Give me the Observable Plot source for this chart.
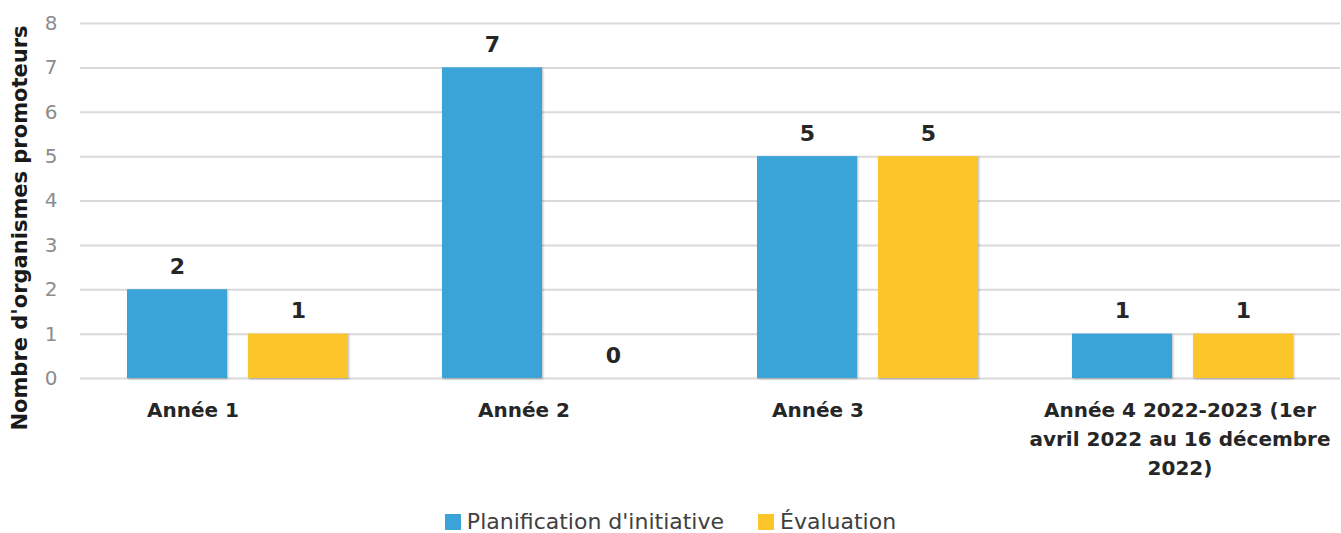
<!DOCTYPE html>
<html>
<head>
<meta charset="utf-8">
<script src="https://cdn.jsdelivr.net/npm/d3@7"></script>
<script src="https://cdn.jsdelivr.net/npm/@observablehq/plot@0.6"></script>
<style>
  html, body { margin: 0; padding: 0; background: #fff; }
  body { width: 1341px; height: 533px; overflow: hidden; font-family: "DejaVu Sans", sans-serif; }
  #chart svg { display: block; }
  g[aria-label="bar"] rect { filter: drop-shadow(1px 1px 1.2px rgba(0,0,0,0.28)); }
  #legend { display: flex; justify-content: center; align-items: center; gap: 34px; height: 31px; margin-top: 4px; font-size: 22px; color: #404040; }
  #legend .item { display: flex; align-items: center; gap: 6px; }
  #legend .sw { width: 16px; height: 16px; display: inline-block; }
</style>
</head>
<body>
<div id="chart"></div>
<div id="legend"></div>
<script>
const categories = ["Année 1", "Année 2", "Année 3", "Année 4"];
const categoryLabels = ["Année 1", "Année 2", "Année 3", "Année 4 2022-2023 (1er\navril 2022 au 16 décembre\n2022)"];
const series = ["Planification d'initiative", "Évaluation"];
const planification = [2, 7, 5, 1];
const evaluation = [1, 0, 5, 1];
const colors = ["#3aa3d8", "#fcc62a"];
const yTicks = [0, 1, 2, 3, 4, 5, 6, 7, 8];
const yLabel = "Nombre d'organismes promoteurs";

// layout tweaks (not data): horizontal nudge of category labels as in the reference
const labelNudge = [-45, -29, -50, -3];

const data = [];
categories.forEach((c, i) => {
  data.push({cat: c, series: series[0], value: planification[i]});
  data.push({cat: c, series: series[1], value: evaluation[i]});
});
const labelOf = Object.fromEntries(categories.map((c, i) => [c, categoryLabels[i]]));

const chart = Plot.plot({
  width: 1341,
  height: 502,
  marginLeft: 78,
  marginRight: 0,
  marginTop: 23,
  marginBottom: 124,
  style: {fontFamily: "DejaVu Sans, sans-serif", background: "#fff"},
  fx: {domain: categories, padding: 0, label: null},
  x: {domain: series, paddingInner: 0.172, paddingOuter: 0.38, axis: null},
  y: {domain: [0, 8], label: null},
  color: {domain: series, range: colors},
  marks: [
    Plot.ruleY(yTicks, {stroke: "#d9d9d9", strokeWidth: 2}),
    Plot.axisY({ticks: yTicks, tickSize: 0, tickPadding: 23, fontSize: 20, fill: "#8c8c8c",
      label: yLabel, labelAnchor: "center", labelOffset: 68, labelArrow: "none"}),
    Plot.axisFx({anchor: "bottom", tickSize: 0, tickPadding: 18, fontSize: 20, fontWeight: "bold", fill: "#262626", lineHeight: 1.45, tickFormat: d => labelOf[d], label: null}),
    Plot.barY(data, {fx: "cat", x: "series", y: "value", fill: "series"}),
    Plot.text(data, {fx: "cat", x: "series", y: "value", text: d => String(d.value), dy: -23, fontSize: 22, fontWeight: "bold", fill: "#262626"})
  ]
});
document.getElementById("chart").appendChild(chart);

// y-axis label: bold, dark, slightly lower as in the reference
const yl = d3.select(chart).select("g[aria-label='y-axis label']");
yl.selectAll("text").attr("font-weight", "bold").attr("font-size", 21).attr("fill", "#1a1a1a");
yl.attr("transform", ((yl.attr("transform") || "") + " translate(0,27)").trim());

// category labels nudge
d3.select(chart).selectAll("g[aria-label='fx-axis tick label'] text").each(function(d, i) {
  const n = labelNudge[categories.indexOf(d)] ?? labelNudge[i] ?? 0;
  const t = d3.select(this);
  const tr = t.attr("transform") || "";
  t.attr("transform", (tr + ` translate(${n},0)`).trim());
});

const legend = document.getElementById("legend");
series.forEach((s, i) => {
  const it = document.createElement("div");
  it.className = "item";
  const sw = document.createElement("span");
  sw.className = "sw";
  sw.style.background = colors[i];
  const t = document.createElement("span");
  t.textContent = s;
  it.appendChild(sw); it.appendChild(t);
  legend.appendChild(it);
});
</script>
</body>
</html>
